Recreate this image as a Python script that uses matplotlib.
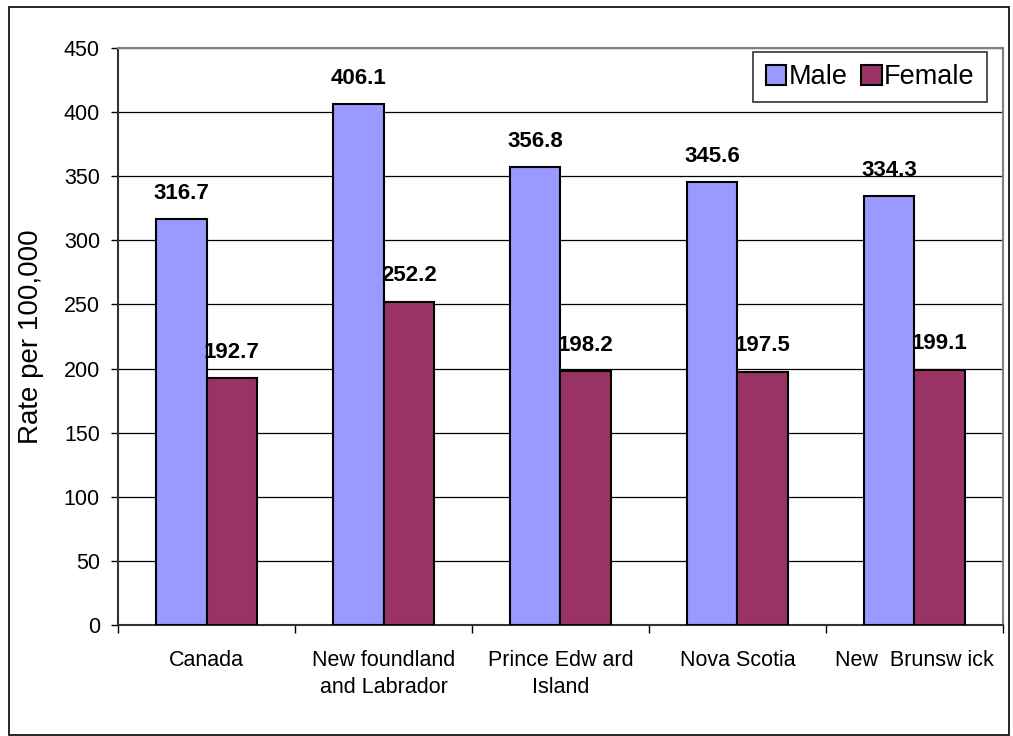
import numpy as np
import matplotlib.pyplot as plt
from matplotlib.patches import Rectangle

# Mortality rates per 100,000 by province and sex
regions = ["Canada", "New foundland\nand Labrador", "Prince Edw ard\nIsland",
           "Nova Scotia", "New  Brunsw ick"]
male = [316.7, 406.1, 356.8, 345.6, 334.3]
female = [192.7, 252.2, 198.2, 197.5, 199.1]
yticks = [0, 50, 100, 150, 200, 250, 300, 350, 400, 450]

plt.rcParams['font.family'] = ['Liberation Sans', 'DejaVu Sans']

fig = plt.figure(figsize=(10.13, 7.36), dpi=100)
ax = fig.add_axes([0.1165, 0.1508, 0.8736, 0.784])

# outer chart border
fig.patches.append(Rectangle((9 / 1013, 1 - 735 / 736), 1000 / 1013, 728 / 736,
                             transform=fig.transFigure, fill=False,
                             edgecolor='black', linewidth=1.2))

x = np.arange(len(regions))
w = 1 / 3.5
b1 = ax.bar(x - w / 2, male, w, color='#9999FF', edgecolor='black', linewidth=1.5,
            label='Male', zorder=3)
b2 = ax.bar(x + w / 2, female, w, color='#993366', edgecolor='black', linewidth=1.5,
            label='Female', zorder=3)

for bars, vals in ((b1, male), (b2, female)):
    for bar, v in zip(bars, vals):
        ax.annotate(f"{v:.1f}", (bar.get_x() + bar.get_width() / 2, v),
                    xytext=(0, 11), textcoords='offset points',
                    ha='center', va='bottom', fontsize=16, fontweight='bold', zorder=4)

ax.set_xlim(-0.5, len(regions) - 0.5)
ax.set_ylim(0, 450)
ax.set_yticks(yticks)
ax.tick_params(axis='y', labelsize=15.5, length=5, width=1, pad=8, direction='out')
ax.yaxis.grid(True, color='black', linewidth=0.9, zorder=0)

ax.set_xticks(x)
ax.set_xticklabels(regions, fontsize=15.5, linespacing=1.35)
ax.set_xticks(np.arange(len(regions) + 1) - 0.5, minor=True)
ax.tick_params(axis='x', which='major', length=0, pad=18)
ax.tick_params(axis='x', which='minor', length=6, width=1, direction='out')

ax.set_ylabel("Rate per 100,000", fontsize=20, labelpad=14)

for side in ('top', 'right'):
    ax.spines[side].set_color('#808080')
    ax.spines[side].set_linewidth(1.5)
for side in ('left', 'bottom'):
    ax.spines[side].set_color('#333333')
    ax.spines[side].set_linewidth(1.5)

leg = ax.legend(loc='upper right', bbox_to_anchor=(0.982, 0.993), borderaxespad=0,
                ncol=2, fontsize=19.5, frameon=True, fancybox=False, edgecolor='black',
                handlelength=0.75, handleheight=0.75, handletextpad=0.1,
                columnspacing=0.5, borderpad=0.45)
leg.get_frame().set_linewidth(1.2)

fig.savefig("out.png", dpi=100)
